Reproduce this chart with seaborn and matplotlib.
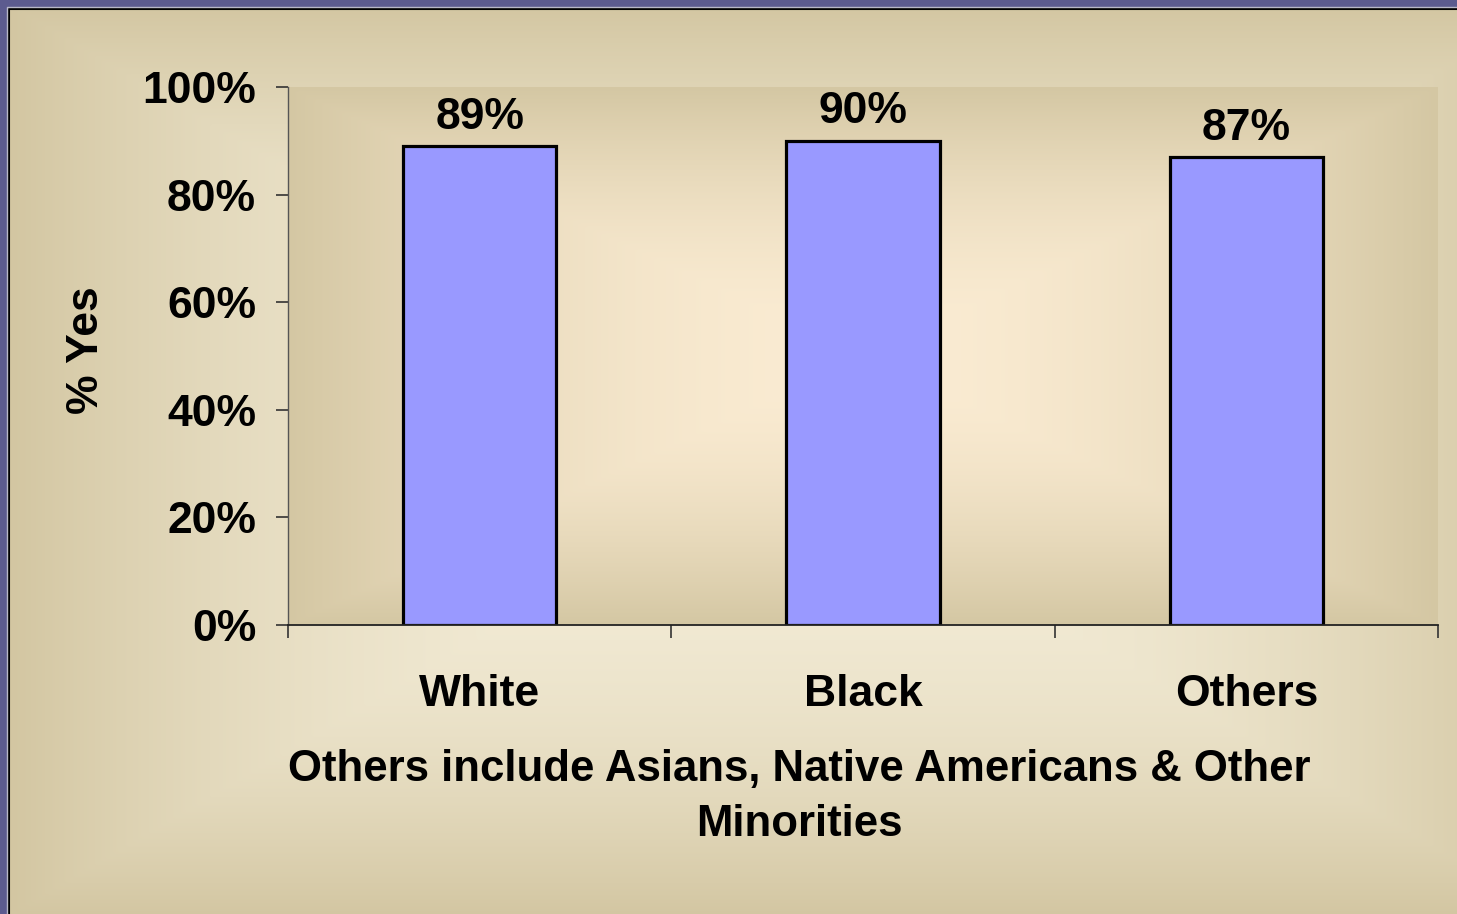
import numpy as np
import matplotlib
matplotlib.use("Agg")
import matplotlib.pyplot as plt
import seaborn as sns

# Survey results: share answering "Yes" by group
categories = ["White", "Black", "Others"]
pct_yes = [89, 90, 87]
y_ticks = [0, 20, 40, 60, 80, 100]
y_tick_labels = ["0%", "20%", "40%", "60%", "80%", "100%"]
x_note = "Others include Asians, Native Americans & Other\nMinorities"
y_title = "% Yes"

sns.set_theme(style="white")
plt.rcParams["font.family"] = ["Liberation Sans", "DejaVu Sans"]
plt.rcParams["font.weight"] = "bold"

FS = 32
W, H = 1457, 914
fig = plt.figure(figsize=(W / 100, H / 100), dpi=100)
fig.patch.set_facecolor("#5C5B8F")


def box_gradient(nx, ny, cx, cy, hw, hh, inner, outer, power=1.3):
    xs = (np.arange(nx) + 0.5 - cx) / hw
    ys = (np.arange(ny) + 0.5 - cy) / hh
    X, Y = np.meshgrid(xs, ys)
    t = np.clip(np.maximum(np.abs(X), np.abs(Y)), 0, 1) ** power
    inner = np.array(matplotlib.colors.to_rgb(inner))
    outer = np.array(matplotlib.colors.to_rgb(outer))
    return inner[None, None, :] * (1 - t[..., None]) + outer[None, None, :] * t[..., None]


# Panel background behind the chart
bg = fig.add_axes([0, 0, 1, 1], zorder=0)
bg.set_xlim(0, W)
bg.set_ylim(H, 0)
bg.axis("off")
panel_w, panel_h = W - 9, H - 9
grad = box_gradient(panel_w // 4, panel_h // 4, (780 - 9) / 4, (460 - 9) / 4,
                    (790 - 9) / 4, (470 - 9) / 4, "#F4EDD8", "#D2C5A0", power=2.2)
bg.imshow(grad, extent=(9, W, H, 9), aspect="auto", interpolation="bilinear")
bg.plot([8.5, 8.5, W], [H, 8.5, 8.5], color="black", lw=1.5)
bg.plot([6.5, 6.5, W], [H, 6.5, 6.5], color="#B8B8C8", lw=1)

# Plot area
left, right, top, bottom = 288, 1438, 87, 625
ax = fig.add_axes([left / W, 1 - bottom / H, (right - left) / W, (bottom - top) / H], zorder=1)
ax.set_facecolor("none")

sns.barplot(x=categories, y=pct_yes, color="#9999FF", saturation=1,
            edgecolor="black", linewidth=2.3, width=0.4, ax=ax, zorder=2)

ax.set_xlim(-0.5, len(categories) - 0.5)
ax.set_ylim(0, 100)
pgrad = box_gradient(300, 150, 150, 75, 150, 75, "#FBECD3", "#D4C7A3", power=1.8)
ax.imshow(pgrad, extent=(-0.5, len(categories) - 0.5, 0, 100), aspect="auto",
          interpolation="bilinear", zorder=0)

for i, v in enumerate(pct_yes):
    ax.annotate(f"{v}%", (i, v), xytext=(0, 6), textcoords="offset points",
                ha="center", va="bottom", fontsize=FS, fontweight="bold", color="black")

ax.set_yticks(y_ticks)
ax.set_yticklabels(y_tick_labels, fontsize=FS, fontweight="bold", color="black")
ax.set_xticks(range(len(categories)))
ax.set_xticklabels(categories, fontsize=FS, fontweight="bold", color="black")
ax.set_xticks(np.arange(-0.5, len(categories)), minor=True)
ax.tick_params(axis="x", which="major", length=0, pad=35, bottom=True)
ax.tick_params(axis="x", which="minor", length=9, width=1.2, color="#333333",
               direction="out", bottom=True)
ax.tick_params(axis="y", which="major", length=9, width=1.2, color="#333333",
               direction="out", pad=14, left=True)
ax.set_xlabel("")
ax.set_ylabel("")

for s in ["top", "right"]:
    ax.spines[s].set_visible(False)
ax.spines["left"].set_color("#555555")
ax.spines["left"].set_linewidth(1)
ax.spines["bottom"].set_color("#222222")
ax.spines["bottom"].set_linewidth(1.3)

fig.text(87 / W, 1 - 350 / H, y_title, rotation=90, ha="center", va="center",
         fontsize=FS, fontweight="bold", color="black")
fig.text(799 / W, 1 - 797 / H, x_note, ha="center", va="center", ma="center",
         fontsize=31.5, fontweight="bold", color="black", linespacing=1.45)

fig.savefig("out.png", dpi=100, facecolor=fig.get_facecolor())
